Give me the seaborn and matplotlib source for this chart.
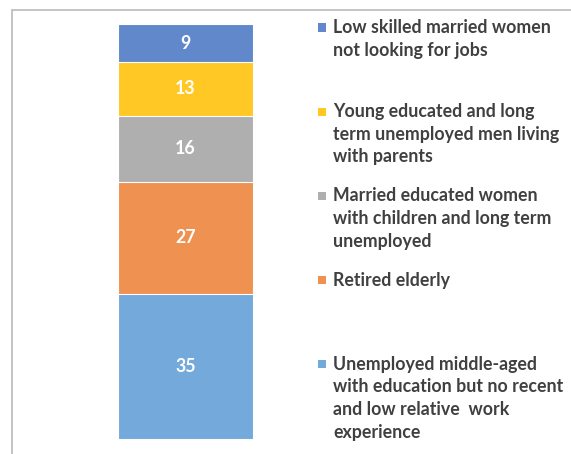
import seaborn as sns
import matplotlib.pyplot as plt
import matplotlib.patches as mpatches
from matplotlib.lines import Line2D
import pandas as pd
import numpy as np

# Data, bottom segment first
groups = [
    "Unemployed middle-aged\nwith education but no recent\nand low relative  work\nexperience",
    "Retired elderly",
    "Married educated women\nwith children and long term\nunemployed",
    "Young educated and long\nterm unemployed men living\nwith parents",
    "Low skilled married women\nnot looking for jobs",
]
values = [35, 27, 16, 13, 9]
colors = ["#74a9db", "#ef9150", "#afafaf", "#ffc825", "#6088cb"]

df = pd.DataFrame({"group": groups, "value": values, "color": colors})
df["top"] = df["value"].cumsum()
df["bottom"] = df["top"] - df["value"]
df["bar"] = "all"

sns.set_style("white")
plt.rcParams["font.family"] = ["Lato", "DejaVu Sans"]

W, H = 571, 454
fig = plt.figure(figsize=(W / 100, H / 100), dpi=100)
ax = fig.add_axes([118.3 / W, 15 / H, 134.4 / W, 414.5 / H])

# stacked bar: draw cumulative totals from tallest to shortest
for i in range(len(df) - 1, -1, -1):
    row = df.iloc[[i]]
    sns.barplot(data=row, x="bar", y="top", color=row["color"].iloc[0],
                width=1, saturation=1, edgecolor="white", linewidth=0.8, ax=ax)

for _, r in df.iterrows():
    ax.text(0, r["bottom"] + r["value"] / 2, str(r["value"]), ha="center", va="center",
            color="white", fontsize=12.8, fontweight="bold")

ax.set_xlim(-0.5, 0.5)
ax.set_ylim(0, 100)
ax.axis("off")

# chart frame (left and top edges)
fig.add_artist(Line2D([12 / W, 12 / W], [0, 1 - 10 / H], transform=fig.transFigure,
                      color="#bfbfbf", lw=1.3))
fig.add_artist(Line2D([12 / W, 1], [1 - 10 / H, 1 - 10 / H], transform=fig.transFigure,
                      color="#bfbfbf", lw=1.3))

# legend, top entry first, evenly spaced
first_y = 27.5
pitch = 84.2
line_gap = 22.6
for k, (_, r) in enumerate(df.iloc[::-1].iterrows()):
    yc = first_y + k * pitch
    fig.add_artist(mpatches.Rectangle((318 / W, 1 - (yc + 4) / H), 8 / W, 8 / H,
                                      transform=fig.transFigure, color=r["color"], lw=0))
    for j, line in enumerate(r["group"].split("\n")):
        fig.text(333 / W, 1 - (yc + j * line_gap) / H, line, ha="left", va="center",
                 color="#404040", fontsize=12.8, fontweight="bold")

fig.savefig("out.png", dpi=100)
